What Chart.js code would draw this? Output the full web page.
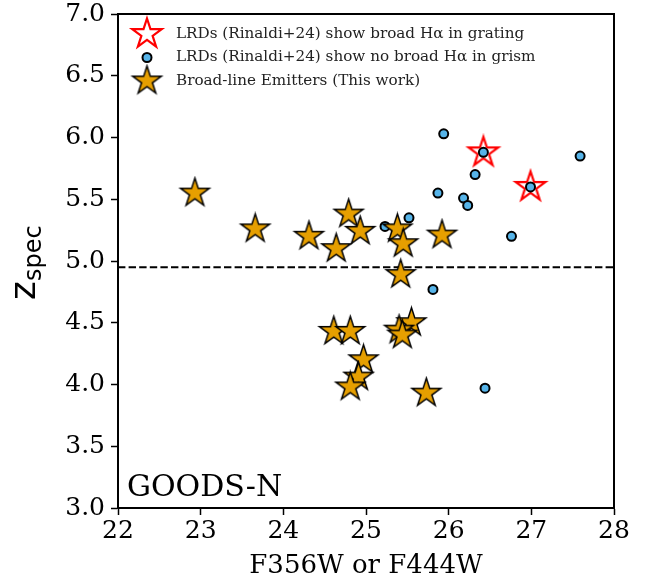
<!DOCTYPE html>
<html>
<head>
<meta charset="utf-8">
<script src="https://cdn.jsdelivr.net/npm/chart.js@4/dist/chart.umd.min.js"></script>
<style>
  html, body { margin: 0; padding: 0; background: #fff; }
  #wrap { width: 652px; height: 582px; }
</style>
</head>
<body>
<div id="wrap"><canvas id="chart" width="652" height="582"></canvas></div>
<script>
// LRDs with broad Halpha in grating (red open stars)
const redX = [26.42, 26.99];
const redY = [5.88, 5.60];

// LRDs with no broad Halpha in grism (blue dots)
const blueX = [25.94, 26.42, 27.59, 26.32, 26.99, 25.87, 26.18, 26.23, 25.52, 25.23, 26.76, 25.81, 26.44];
const blueY = [6.03, 5.88, 5.85, 5.70, 5.60, 5.55, 5.51, 5.45, 5.35, 5.28, 5.20, 4.77, 3.97];

// Broad-line emitters (this work)
const goldX = [22.93, 23.66, 24.31, 24.79, 24.64, 24.93, 25.38, 25.45, 25.92, 25.42,
               24.61, 24.81, 25.55, 25.40, 25.44, 24.97, 24.91, 24.81, 25.73];
const goldY = [5.55, 5.26, 5.20, 5.38, 5.10, 5.24, 5.26, 5.14, 5.21, 4.89,
               4.43, 4.43, 4.50, 4.44, 4.40, 4.20, 4.06, 3.98, 3.93];

// dashed redshift cut
const zCut = 4.95;
const xRange = [22, 28];
const yRange = [3, 7];

const legendLabels = [
    'LRDs (Rinaldi+24) show broad H\u03b1 in grating',
    'LRDs (Rinaldi+24) show no broad H\u03b1 in grism',
    'Broad-line Emitters (This work)'
];
const fieldName = 'GOODS-N';

const GOLD = '#E69F00';
const BLUE = '#56B4E9';

// 5-pointed star as an image, since chart.js 'star' is an asterisk
function makeStar(R, fill, stroke, lw) {
    const size = Math.ceil(2 * (R + lw)) + 2;
    const c = document.createElement('canvas');
    c.width = size;
    c.height = size;
    const g = c.getContext('2d');
    const cx = size / 2, cy = size / 2;
    const r = R * 0.381966;
    g.beginPath();
    for (let i = 0; i < 10; i++) {
        const rad = i % 2 === 0 ? R : r;
        const a = -Math.PI / 2 + i * Math.PI / 5;
        const px = cx + rad * Math.cos(a);
        const py = cy + rad * Math.sin(a);
        if (i === 0) g.moveTo(px, py); else g.lineTo(px, py);
    }
    g.closePath();
    if (fill) { g.fillStyle = fill; g.fill(); }
    g.lineJoin = 'miter';
    g.lineWidth = lw;
    g.strokeStyle = stroke;
    g.stroke();
    return c;
}

const goldStar = makeStar(15, GOLD, '#000', 1.5);
const redStar = makeStar(15.5, null, '#ff0000', 2.2);

function toPoints(xs, ys) {
    return xs.map((x, i) => ({ x: x, y: ys[i] }));
}

// legend, frame, field label and the y title with subscript
const extras = {
    id: 'extras',
    afterDraw(chart) {
        const ctx = chart.ctx;
        const a = chart.chartArea;
        ctx.save();

        // full box
        ctx.strokeStyle = '#000';
        ctx.lineWidth = 2;
        ctx.strokeRect(a.left, a.top, a.right - a.left, a.bottom - a.top);

        // legend
        const lx = 147, tx = 176;
        const rows = [34, 57.5, 81];
        ctx.drawImage(redStar, lx - redStar.width / 2, rows[0] - redStar.height / 2);
        ctx.beginPath();
        ctx.arc(lx, rows[1], 4.5, 0, Math.PI * 2);
        ctx.fillStyle = BLUE;
        ctx.fill();
        ctx.lineWidth = 2;
        ctx.strokeStyle = '#000';
        ctx.stroke();
        ctx.drawImage(goldStar, lx - goldStar.width / 2, rows[2] - goldStar.height / 2);
        ctx.fillStyle = '#222';
        ctx.font = '15.2px "DejaVu Serif"';
        ctx.textBaseline = 'middle';
        ctx.textAlign = 'left';
        legendLabels.forEach((t, i) => ctx.fillText(t, tx, rows[i]));

        // field name
        ctx.fillStyle = '#000';
        ctx.font = '30px "DejaVu Serif"';
        ctx.textBaseline = 'alphabetic';
        ctx.fillText(fieldName, 127, 496);

        // y title: z_spec
        ctx.translate(35, 262);
        ctx.rotate(-Math.PI / 2);
        ctx.font = '36px "DejaVu Sans"';
        ctx.textAlign = 'left';
        ctx.textBaseline = 'alphabetic';
        const zw = ctx.measureText('z').width;
        ctx.fillText('z', -38, 0);
        ctx.font = '24px "DejaVu Sans"';
        ctx.fillText('spec', -38 + zw, 6);
        ctx.restore();
    }
};

const ctx = document.getElementById('chart').getContext('2d');
new Chart(ctx, {
    type: 'scatter',
    data: {
        datasets: [
            {
                label: 'zcut',
                type: 'line',
                data: [{ x: xRange[0], y: zCut }, { x: xRange[1], y: zCut }],
                borderColor: '#000',
                borderWidth: 2,
                borderDash: [7.4, 3.2],
                pointRadius: 0,
                fill: false,
                order: 4
            },
            {
                label: legendLabels[0],
                data: toPoints(redX, redY),
                pointStyle: redStar,
                order: 3
            },
            {
                label: legendLabels[1],
                data: toPoints(blueX, blueY),
                pointStyle: 'circle',
                pointRadius: 4.5,
                backgroundColor: BLUE,
                borderColor: '#000',
                borderWidth: 2,
                order: 2
            },
            {
                label: legendLabels[2],
                data: toPoints(goldX, goldY),
                pointStyle: goldStar,
                order: 1
            }
        ]
    },
    options: {
        responsive: false,
        animation: false,
        events: [],
        layout: { padding: { left: 0, right: 38, top: 14, bottom: 0 } },
        plugins: {
            legend: { display: false },
            tooltip: { enabled: false }
        },
        scales: {
            x: {
                type: 'linear',
                min: xRange[0],
                max: xRange[1],
                afterFit(scale) { scale.height = 74; },
                ticks: {
                    stepSize: 1,
                    color: '#000',
                    padding: 4,
                    font: { family: 'DejaVu Serif', size: 25, lineHeight: 1 },
                    maxRotation: 0
                },
                grid: {
                    drawOnChartArea: false,
                    drawTicks: true,
                    tickLength: 7,
                    tickWidth: 1.5,
                    tickColor: '#000'
                },
                border: { display: true, color: '#000', width: 2 },
                title: {
                    display: true,
                    text: 'F356W or F444W',
                    color: '#000',
                    font: { family: 'DejaVu Serif', size: 26 },
                    padding: { top: 0, bottom: 0 }
                }
            },
            y: {
                type: 'linear',
                min: yRange[0],
                max: yRange[1],
                afterFit(scale) { scale.width = 118; },
                ticks: {
                    stepSize: 0.5,
                    color: '#000',
                    padding: 6,
                    font: { family: 'DejaVu Serif', size: 25, lineHeight: 0.6 },
                    callback: v => v.toFixed(1)
                },
                grid: {
                    drawOnChartArea: false,
                    drawTicks: true,
                    tickLength: 7,
                    tickWidth: 1.5,
                    tickColor: '#000'
                },
                border: { display: true, color: '#000', width: 2 }
            }
        }
    },
    plugins: [extras]
});
</script>
</body>
</html>
